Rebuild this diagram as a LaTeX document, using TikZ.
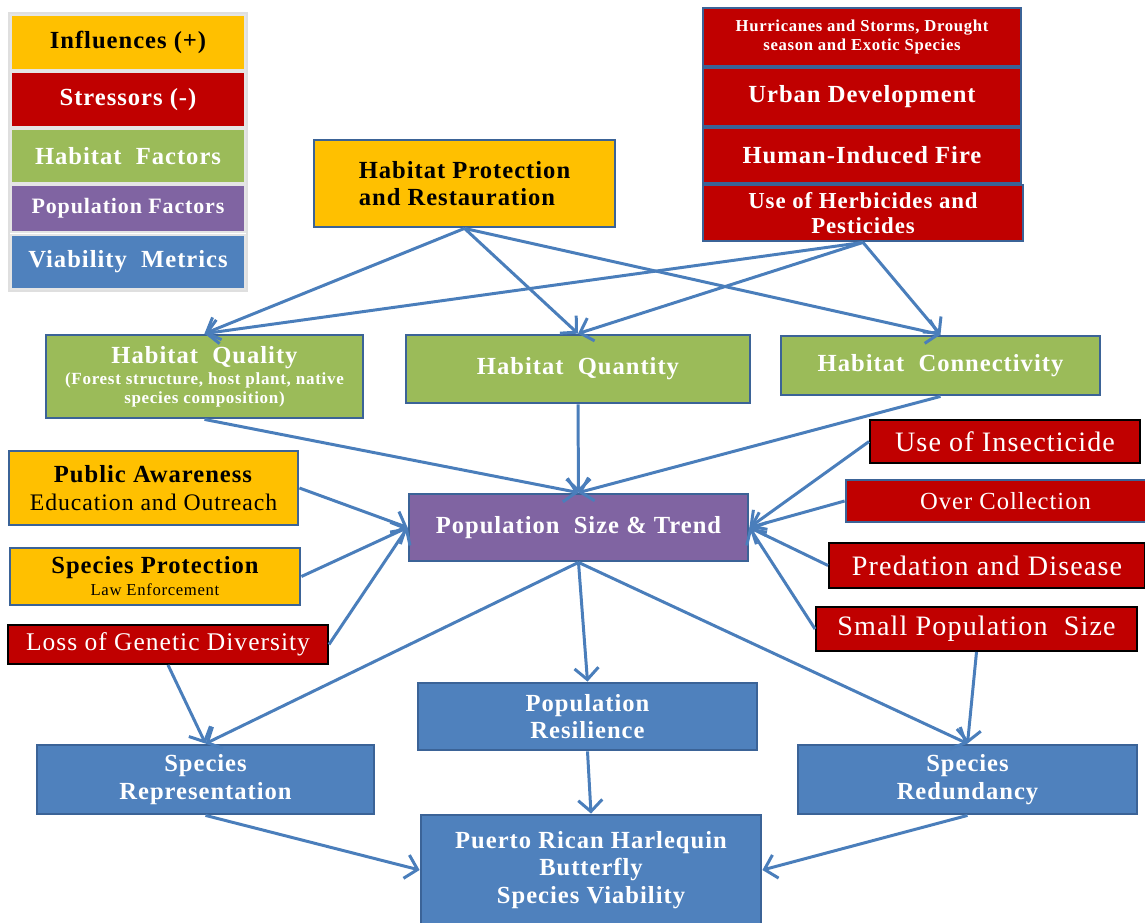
\documentclass[tikz,border=0pt]{standalone}
\usepackage{fontspec}
\setmainfont{Liberation Serif}[LetterSpace=4]
\usetikzlibrary{arrows.meta, positioning}
\definecolor{inflY}{HTML}{FFC000}
\definecolor{strR}{HTML}{C00000}
\definecolor{habG}{HTML}{9BBB59}
\definecolor{popP}{HTML}{8064A2}
\definecolor{viaB}{HTML}{4F81BD}
\definecolor{edgeB}{HTML}{3B6397}
\definecolor{lineB}{HTML}{4A7EBB}

\begin{document}
\begin{tikzpicture}[
	box/.style={draw=edgeB, line width=1.6pt, inner sep=0pt, align=center, text=white,
		font={\bfseries\fontsize{14}{15.5}\selectfont}},
	inf/.style={box, fill=inflY, text=black},
	str/.style={box, fill=strR},
	strk/.style={str, draw=black, line width=1.1pt, font={\fontsize{16}{18}\selectfont}},
	hab/.style={box, fill=habG},
	pop/.style={box, fill=popP},
	via/.style={box, fill=viaB},
	leg/.style={draw=gray!20, line width=0.8pt, inner sep=0pt, minimum width=4.68cm, text=white,
		font={\bfseries\fontsize{14}{15.5}\selectfont}},
	link/.style={draw=lineB, line width=1.7pt, -{Straight Barb[length=2.3mm,width=4.8mm]}}]
	\useasboundingbox (0,0) rectangle (22.9,-18.44);
	\draw[gray!25, line width=1pt] (0.18,-0.26) rectangle (4.94,-5.82);
	\node[leg, fill=inflY, text=black, minimum height=1.10cm] (L1) at (2.56,-0.85) {Influences (+)};
	\node[leg, fill=strR, minimum height=1.10cm] (L2) at (2.56,-1.99) {Stressors (-)};
	\node[leg, fill=habG, minimum height=1.08cm] (L3) at (2.56,-3.12) {Habitat\ \ Factors};
	\node[leg, fill=popP, minimum height=0.94cm, font={\bfseries\fontsize{12.5}{14}\selectfont}] (L4) at (2.56,-4.17) {Population Factors};
	\node[leg, fill=viaB, minimum height=1.08cm] (L5) at (2.56,-5.24) {Viability\ \ Metrics};

	\node[inf, align=left, minimum width=6.02cm, minimum height=1.74cm] (HPR) at (9.29,-3.67) {Habitat Protection\\and Restauration};

	\node[str, minimum width=6.36cm, minimum height=1.16cm, font={\bfseries\fontsize{9.5}{10.5}\selectfont}] (HUR) at (17.24,-0.74) {Hurricanes and Storms, Drought\\season and Exotic Species};
	\node[str, minimum width=6.36cm, minimum height=1.16cm] (URB) at (17.24,-1.94) {Urban Development};
	\node[str, minimum width=6.36cm, minimum height=1.10cm] (FIR) at (17.24,-3.11) {Human-Induced Fire};
	\node[str, minimum width=6.40cm, minimum height=1.12cm, font={\bfseries\fontsize{13}{14.5}\selectfont}] (HER) at (17.26,-4.26) {Use of Herbicides and\\Pesticides};

	\node[hab, minimum width=6.34cm, minimum height=1.66cm, font={\bfseries\fontsize{9.7}{10.5}\selectfont}] (HQL) at (4.09,-7.53) {{\fontsize{14}{15.5}\selectfont Habitat\ \ Quality}\\[2pt](Forest structure, host plant, native\\species composition)};
	\node[hab, minimum width=6.88cm, minimum height=1.36cm] (HQN) at (11.56,-7.38) {Habitat\ \ Quantity};
	\node[hab, minimum width=6.38cm, minimum height=1.18cm] (HCN) at (18.81,-7.31) {Habitat\ \ Connectivity};

	\node[inf, minimum width=5.78cm, minimum height=1.48cm, font={\fontsize{13.5}{15.5}\selectfont}] (PA) at (3.07,-9.76) {\textbf{\fontsize{14}{15.5}\selectfont Public Awareness}\\Education and Outreach};
	\node[inf, minimum width=5.80cm, minimum height=1.14cm] (SP) at (3.10,-11.53) {Species Protection\\[-3pt]\mdseries\fontsize{9.5}{10.5}\selectfont Law Enforcement};
	\node[strk, minimum width=6.40cm, minimum height=0.78cm, font={\fontsize{14.5}{16}\selectfont}] (LGD) at (3.36,-12.89) {Loss of Genetic Diversity};

	\node[pop, minimum width=6.78cm, minimum height=1.34cm] (PST) at (11.57,-10.55) {Population\ \ Size \& Trend};

	\node[strk, minimum width=5.40cm, minimum height=0.86cm] (INS) at (20.10,-8.83) {Use of Insecticide};
	\node[str, minimum width=6.38cm, minimum height=0.84cm, font={\fontsize{14}{15.5}\selectfont}] (OVC) at (20.11,-10.02) {Over Collection};
	\node[strk, minimum width=6.32cm, minimum height=0.90cm] (PRD) at (19.74,-11.31) {Predation and Disease};
	\node[strk, minimum width=6.42cm, minimum height=0.88cm] (SPS) at (19.53,-12.58) {Small Population\ \ Size};

	\node[via, minimum width=6.78cm, minimum height=1.34cm] (RES) at (11.75,-14.33) {Population\\Resilience};
	\node[via, minimum width=6.74cm, minimum height=1.38cm] (REP) at (4.11,-15.59) {Species\\Representation};
	\node[via, minimum width=6.78cm, minimum height=1.38cm] (RED) at (19.35,-15.59) {Species\\Redundancy};
	\node[via, minimum width=6.80cm, minimum height=2.20cm] (PRH) at (11.82,-17.40) {Puerto Rican Harlequin\\Butterfly\\Species Viability};

	\draw[link] (HPR.south) -- (HQL.north);
	\draw[link] (HPR.south) -- (HQN.north);
	\draw[link] (HPR.south) -- (HCN.north);
	\draw[link] (HER.south) -- (HQL.north);
	\draw[link] (HER.south) -- (HQN.north);
	\draw[link] (HER.south) -- (HCN.north);

	\draw[link] (HQL.south) -- (PST.north);
	\draw[link] (HQN.south) -- (PST.north);
	\draw[link] (HCN.south) -- (PST.north);

	\draw[link] (PA.east) -- (PST.west);
	\draw[link] (SP.east) -- (PST.west);
	\draw[link] (LGD.east) -- (PST.west);
	\draw[link] (INS.west) -- (PST.east);
	\draw[link] (OVC.west) -- (PST.east);
	\draw[link] (PRD.west) -- (PST.east);
	\draw[link] (SPS.west) -- (PST.east);

	\draw[link] (PST.south) -- (RES.north);
	\draw[link] (PST.south) -- (REP.north);
	\draw[link] (PST.south) -- (RED.north);
	\draw[link] (LGD.south) -- (REP.north);
	\draw[link] (SPS.south) -- (RED.north);

	\draw[link] (RES.south) -- (PRH.north);
	\draw[link] (REP.south) -- (PRH.west);
	\draw[link] (RED.south) -- (PRH.east);
\end{tikzpicture}
\end{document}
